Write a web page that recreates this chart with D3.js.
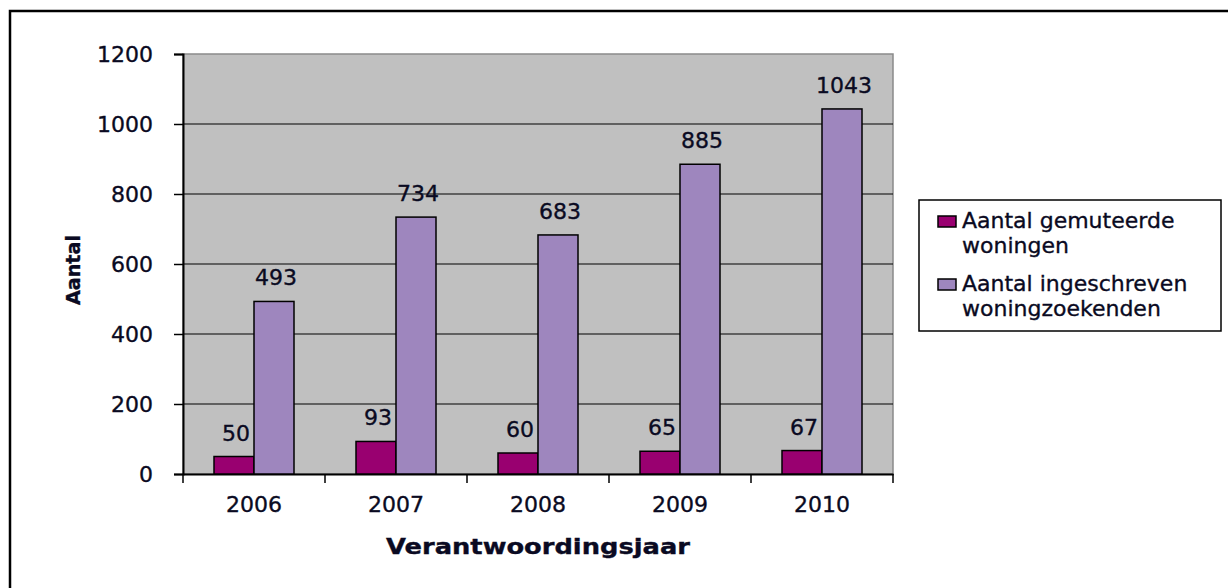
<!DOCTYPE html>
<html>
<head>
<meta charset="utf-8">
<script src="https://cdn.jsdelivr.net/npm/d3@7"></script>
<style>
  body { margin: 0; background: #fff; }
  text { font-family: "DejaVu Sans", Verdana, sans-serif; fill: #0a0a22; stroke: #0a0a22; stroke-width: 0.35px; }
</style>
</head>
<body>
<svg id="chart"></svg>
<script>
// chart data
const years = ["2006", "2007", "2008", "2009", "2010"];
const seriesNames = ["Aantal gemuteerde woningen", "Aantal ingeschreven woningzoekenden"];
const gemuteerd = [50, 93, 60, 65, 67];
const ingeschreven = [493, 734, 683, 885, 1043];
const yTicks = [0, 200, 400, 600, 800, 1000, 1200];
const legendLines = [["Aantal gemuteerde", "woningen"], ["Aantal ingeschreven", "woningzoekenden"]];

const width = 1228, height = 588;
const colors = ["#990070", "#9E86BE"];

const svg = d3.select("#chart")
    .attr("width", width)
    .attr("height", height);

// outer frame (right/bottom edges run off the page)
svg.append("rect")
    .attr("x", 10).attr("y", 11)
    .attr("width", 1300).attr("height", 700)
    .attr("fill", "none")
    .attr("stroke", "#000")
    .attr("stroke-width", 2.5);

const plot = { left: 183, right: 893, top: 54, bottom: 474 };

const x0 = d3.scaleBand()
    .domain(years)
    .range([plot.left, plot.right])
    .padding(0);

const groupW = 80;
const x1 = d3.scaleBand()
    .domain([0, 1])
    .range([(x0.bandwidth() - groupW) / 2, (x0.bandwidth() + groupW) / 2])
    .padding(0);

const y = d3.scaleLinear()
    .domain([0, 1200])
    .range([plot.bottom, plot.top]);

// plot area background
svg.append("rect")
    .attr("x", plot.left).attr("y", plot.top)
    .attr("width", plot.right - plot.left)
    .attr("height", plot.bottom - plot.top)
    .attr("fill", "#C0C0C0")
    .attr("stroke", "#8a8a8a")
    .attr("stroke-width", 1.5);

// gridlines
svg.append("g")
    .selectAll("line")
    .data(yTicks.filter(d => d > 0 && d < 1200))
    .enter()
    .append("line")
    .attr("x1", plot.left).attr("x2", plot.right)
    .attr("y1", d => y(d)).attr("y2", d => y(d))
    .attr("stroke", "#000")
    .attr("stroke-width", 1.2);

// y axis
const yAxis = svg.append("g")
    .attr("transform", `translate(${plot.left},0)`)
    .call(d3.axisLeft(y).tickValues(yTicks).tickFormat(d3.format("d")).tickSize(9).tickPadding(21));
yAxis.select(".domain").attr("stroke", "#000").attr("stroke-width", 2);
yAxis.selectAll(".tick line").attr("stroke", "#000").attr("stroke-width", 1.5);
yAxis.selectAll(".tick text")
    .style("font-family", "DejaVu Sans, sans-serif")
    .style("font-size", "22px")
    .attr("fill", "#0a0a22");

// x axis
const xAxis = svg.append("g")
    .attr("transform", `translate(0,${plot.bottom})`)
    .call(d3.axisBottom(x0).tickSize(0).tickPadding(22));
xAxis.select(".domain").attr("stroke", "#000").attr("stroke-width", 2);
xAxis.selectAll(".tick text")
    .style("font-family", "DejaVu Sans, sans-serif")
    .style("font-size", "22px")
    .attr("fill", "#0a0a22");
// category separator ticks
svg.append("g")
    .selectAll("line")
    .data(years.concat(["end"]))
    .enter()
    .append("line")
    .attr("x1", (d, i) => plot.left + i * x0.step())
    .attr("x2", (d, i) => plot.left + i * x0.step())
    .attr("y1", plot.bottom).attr("y2", plot.bottom + 9)
    .attr("stroke", "#000")
    .attr("stroke-width", 1.5);

// bars
const rows = years.map((yr, i) => ({ year: yr, values: [gemuteerd[i], ingeschreven[i]] }));

const groups = svg.append("g")
    .selectAll("g")
    .data(rows)
    .enter()
    .append("g")
    .attr("transform", d => `translate(${x0(d.year)},0)`);

groups.selectAll("rect")
    .data(d => d.values.map((v, k) => ({ k, v })))
    .enter()
    .append("rect")
    .attr("x", d => x1(d.k))
    .attr("y", d => y(d.v))
    .attr("width", x1.bandwidth())
    .attr("height", d => y(0) - y(d.v))
    .attr("fill", d => colors[d.k])
    .attr("stroke", "#000")
    .attr("stroke-width", 1.5);

groups.selectAll("text.val")
    .data(d => d.values.map((v, k) => ({ k, v })))
    .enter()
    .append("text")
    .attr("class", "val")
    .attr("x", d => x1(d.k) + x1.bandwidth() / 2 + 2)
    .attr("y", d => y(d.v) - 16)
    .attr("text-anchor", "middle")
    .style("font-size", "22px")
    .text(d => d.v);

// axis titles
svg.append("text")
    .attr("transform", `translate(${(plot.left + plot.right) / 2},554)`)
    .attr("text-anchor", "middle")
    .style("font-size", "21px")
    .style("font-weight", "bold")
    .attr("textLength", 304)
    .attr("lengthAdjust", "spacingAndGlyphs")
    .text("Verantwoordingsjaar");

svg.append("text")
    .attr("transform", "translate(80,270) rotate(-90)")
    .attr("text-anchor", "middle")
    .style("font-size", "20px")
    .style("font-weight", "bold")
    .attr("textLength", 70)
    .attr("lengthAdjust", "spacingAndGlyphs")
    .text("Aantal");

// legend
const legend = svg.append("g");
legend.append("rect")
    .attr("x", 919).attr("y", 200)
    .attr("width", 302).attr("height", 131)
    .attr("fill", "#fff")
    .attr("stroke", "#000")
    .attr("stroke-width", 1.5);

const items = legend.selectAll("g")
    .data(seriesNames)
    .enter()
    .append("g")
    .attr("transform", (d, i) => `translate(938,${216 + i * 63})`);

items.append("rect")
    .attr("width", 18).attr("height", 11)
    .attr("fill", (d, i) => colors[i])
    .attr("stroke", "#000")
    .attr("stroke-width", 1.5);

items.each(function (d, i) {
    const t = d3.select(this).append("text")
        .attr("x", 24)
        .attr("y", 12)
        .style("font-size", "22px");
    legendLines[i].forEach((ln, j) => {
        t.append("tspan").attr("x", 24).attr("dy", j === 0 ? 0 : 25).text(ln);
    });
});
</script>
</body>
</html>
